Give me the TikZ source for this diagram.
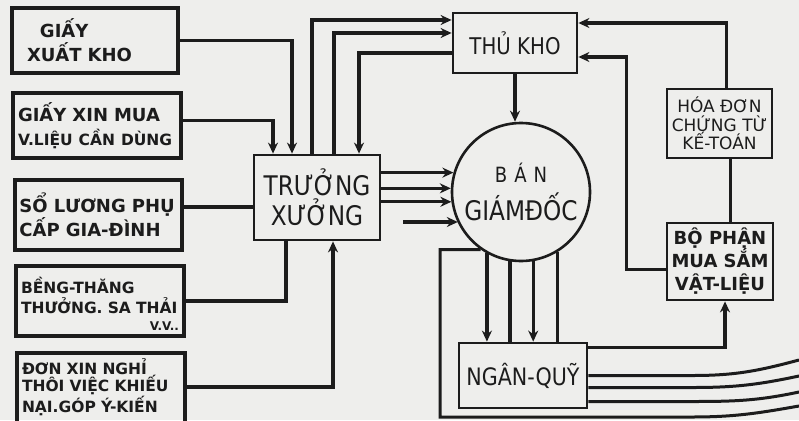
\documentclass[tikz,border=0pt]{standalone}
\usepackage{fontspec}
\setmainfont{DejaVu Sans}
\newfontfamily\slim[FakeStretch=0.86]{DejaVu Sans}
\usetikzlibrary{arrows.meta,calc}
\definecolor{ink}{HTML}{1C1C1C}
\definecolor{paper}{HTML}{EEEEEC}
\tikzset{
  slip/.style={rectangle, draw=ink, line width=3.2pt, text width=158pt, align=left,
               inner xsep=4pt, text=ink, font=\bfseries\fontsize{18}{24}\selectfont},
  office/.style={rectangle, draw=ink, line width=2.8pt, align=center, text=ink,
                 font=\slim\fontsize{23}{28}\selectfont},
  board/.style={circle, draw=ink, line width=2.6pt, minimum size=138pt, align=center, text=ink},
  flow/.style={-{Stealth[length=11pt,width=10pt]}, line width=3.2pt, draw=ink},
  link/.style={line width=3.2pt, draw=ink},
  ledger/.style={line width=3pt, draw=ink}
}
\begin{document}
\begin{tikzpicture}[x=1pt,y=-1pt]
\useasboundingbox (0,0) rectangle (799,420);
\fill[paper] (0,0) rectangle (799,420);

\node[slip, minimum width=166pt, minimum height=65pt] (giayxuat) at (95,40.5) {\hspace*{24pt}GIẤY\\\hspace*{11pt}XUẤT KHO};
\node[slip, minimum width=168pt, minimum height=65pt] (giayxin) at (97,125.5) {GIẤY XIN MUA\\{\fontsize{15.5}{24}\selectfont V.LIỆU CẦN DÙNG}};
\node[slip, minimum width=167pt, minimum height=70pt] (soluong) at (98.5,215) {SỔ LƯƠNG PHỤ\\CẤP GIA-ĐÌNH};
\node[slip, minimum width=168pt, minimum height=70pt, font=\bfseries\fontsize{15.5}{20}\selectfont] (bangthang) at (100,301) {\rule{0pt}{21pt}BỀNG-THĂNG\\\mbox{THƯỞNG. SA THẢI}\\[-3pt]\hfill{\fontsize{12}{14}\selectfont V.V..}};
\node[slip, minimum width=168pt, minimum height=86pt, font=\bfseries\fontsize{15.5}{17.5}\selectfont] (donxin) at (101,396) {ĐƠN XIN NGHỈ\\THÔI VIỆC KHIẾU\\NẠI.GÓP Ý-KIẾN\\[4pt]\mbox{}};

\node[office, minimum width=126pt, minimum height=85pt, font=\slim\fontsize{27}{30}\selectfont] (truongxuong) at (317,197.5) {TRƯỞNG\\XƯỞNG};
\node[office, minimum width=124pt, minimum height=60pt] (thukho) at (515,43) {THỦ KHO};
\node[board] (bangiamdoc) at (521,192) {{\slim\fontsize{21}{26}\selectfont B\,\,Á\,\,N}\\[9pt]{\slim\fontsize{27}{28}\selectfont GIÁMĐỐC}};
\node[office, minimum width=105pt, minimum height=69pt, font=\fontsize{17}{18.5}\selectfont] (hoadon) at (719.5,123.5) {HÓA ĐƠN\\CHỨNG TỪ\\KẾ-TOÁN};
\node[office, minimum width=106pt, minimum height=77pt, font=\bfseries\fontsize{18}{23}\selectfont] (bophan) at (720,261.5) {BỘ PHẬN\\MUA SẮM\\VẬT-LIỆU};
\node[office, minimum width=128pt, minimum height=65pt, font=\slim\fontsize{24}{28}\selectfont] (nganquy) at (523,375.5) {NGÂN-QUỸ};

\coordinate (loose) at (403,222);
\coordinate (bend) at (440,417);
\coordinate (edgeA) at (799,360);
\coordinate (edgeB) at (799,376);
\coordinate (edgeC) at (799,392);
\coordinate (edgeD) at (799,406);

\draw[flow] (giayxuat.east) -| ([xshift=-25pt]truongxuong.north);
\draw[flow] ([yshift=5pt]giayxin.east) -| ([xshift=-44pt]truongxuong.north);
\draw[link] ([yshift=8pt]soluong.east) -- ([yshift=8pt]soluong.east -| truongxuong.west);
\draw[link] (bangthang.east) -| ([xshift=-31pt]truongxuong.south);
\draw[flow] ([yshift=9pt]donxin.east) -| ([xshift=16pt]truongxuong.south);

\draw[flow] ([xshift=-5pt]truongxuong.north) |- ([yshift=23pt]thukho.west);
\draw[flow] ([xshift=17pt]truongxuong.north) |- ([yshift=10pt]thukho.west);
\draw[flow] ([yshift=-10pt]thukho.west) -| ([xshift=42pt]truongxuong.north);

\foreach \a in {164,177,188}
  \draw[flow] (truongxuong.east |- bangiamdoc.\a) -- (bangiamdoc.\a);
\draw[flow] (loose) -- (loose -| bangiamdoc.206);
\draw[flow] (thukho.south) -- (thukho.south |- bangiamdoc.north);

\foreach \a in {241,280}
  \draw[flow] (bangiamdoc.\a) -- (bangiamdoc.\a |- nganquy.north);
\foreach \a in {261,301}
  \draw[link] (bangiamdoc.\a) -- (bangiamdoc.\a |- nganquy.north);

\draw[flow] ([yshift=28pt]nganquy.east) -| ([xshift=5pt]bophan.south);
\draw[flow] ([yshift=-8pt]bophan.west) -- ++(-39,0) |- ([yshift=-14pt]thukho.east);
\draw[flow] ([xshift=7pt]hoadon.north) |- ([yshift=20pt]thukho.east);
\draw[link] ([xshift=11pt]hoadon.south) -- ([xshift=11pt]hoadon.south |- bophan.north);

\draw[ledger] (nganquy.east) -- ++(105,0) to[out=0,in=-165] (edgeA);
\draw[ledger] ([yshift=-12pt]nganquy.east) -- ++(105,0) to[out=0,in=-168] (edgeB);
\draw[ledger] ([yshift=-26pt]nganquy.east) -- ++(105,0) to[out=0,in=-168] (edgeC);
\draw[ledger] (bangiamdoc.235) -| (bend) -- ++(252,0) to[out=0,in=-170] (edgeD);
\end{tikzpicture}
\end{document}
